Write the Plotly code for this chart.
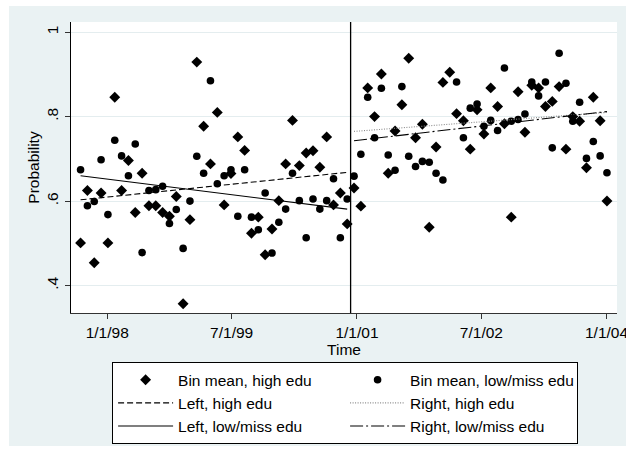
import pandas as pd
import plotly.graph_objects as go

# Regression-discontinuity bins: 30-day bins on each side of the cutoff
cutoff = pd.Timestamp("2000-12-04")
n_left, n_right = 40, 38
left_dates = [cutoff - pd.Timedelta(days=15 + 30 * k) for k in range(n_left - 1, -1, -1)]
right_dates = [cutoff + pd.Timedelta(days=15 + 30 * k) for k in range(n_right)]

# Bin means, high education
left_high = [0.501, 0.625, 0.454, 0.619, 0.501, 0.846, 0.625, 0.696, 0.573, 0.666,
             0.589, 0.589, 0.573, 0.564, 0.611, 0.357, 0.556, 0.929, 0.777, 0.688,
             0.810, 0.591, 0.665, 0.752, 0.720, 0.524, 0.562, 0.473, 0.534, 0.601,
             0.688, 0.791, 0.684, 0.714, 0.719, 0.680, 0.752, 0.591, 0.619, 0.546]
right_high = [0.631, 0.588, 0.868, 0.800, 0.901, 0.666, 0.766, 0.828, 0.938, 0.750,
              0.782, 0.538, 0.728, 0.881, 0.905, 0.807, 0.790, 0.723, 0.816, 0.759,
              0.868, 0.824, 0.783, 0.562, 0.859, 0.763, 0.874, 0.868, 0.824, 0.836,
              0.871, 0.723, 0.800, 0.789, 0.679, 0.846, 0.790, 0.600]

# Bin means, low / missing education
left_low = [0.674, 0.589, 0.599, 0.698, 0.568, 0.744, 0.707, 0.660, 0.735, 0.478,
            0.625, 0.627, 0.635, 0.547, 0.580, 0.488, 0.600, 0.706, 0.666, 0.885,
            0.641, 0.660, 0.674, 0.564, 0.674, 0.562, 0.532, 0.619, 0.477, 0.550,
            0.581, 0.666, 0.601, 0.513, 0.605, 0.581, 0.601, 0.653, 0.513, 0.605]
right_low = [0.659, 0.711, 0.846, 0.750, 0.867, 0.709, 0.673, 0.871, 0.706, 0.682,
             0.694, 0.692, 0.666, 0.650, None, 0.882, 0.750, 0.820, 0.830, 0.777,
             0.791, 0.767, 0.915, 0.789, 0.793, 0.806, 0.882, 0.849, 0.882, 0.726,
             0.950, 0.879, 0.789, 0.834, 0.701, 0.741, 0.707, 0.667]

# Linear fits, evaluated at the first and last bin of each side
fit_left_high = [0.603, 0.668]
fit_left_low = [0.660, 0.581]
fit_right_high = [0.765, 0.810]
fit_right_low = [0.743, 0.812]

x_tick_dates = ["1998-01-01", "1999-07-01", "2001-01-01", "2002-07-01", "2004-01-01"]
x_tick_text = ["1/1/98", "7/1/99", "1/1/01", "7/1/02", "1/1/04"]
y_tick_vals = [0.4, 0.6, 0.8, 1.0]
y_tick_text = [".4", ".6", ".8", "1"]

all_dates = left_dates + right_dates
left_ends = [left_dates[0], left_dates[-1]]
right_ends = [right_dates[0], right_dates[-1]]

FONT = "Liberation Sans, Arial, sans-serif"
BG = "#EAF2F3"
FS = 15.5

fig = go.Figure()
fig.add_trace(go.Scatter(
    x=all_dates, y=left_high + right_high, mode="markers",
    name="Bin mean, high edu",
    marker=dict(symbol="diamond", size=8.4, color="black", line=dict(width=0)),
))
fig.add_trace(go.Scatter(
    x=all_dates, y=left_low + right_low, mode="markers",
    name="Bin mean, low/miss edu",
    marker=dict(symbol="circle", size=7.6, color="black", line=dict(width=0)),
))
fig.add_trace(go.Scatter(
    x=left_ends, y=fit_left_high, mode="lines", name="Left, high edu",
    line=dict(color="black", width=1.1, dash="6px,3px"),
))
fig.add_trace(go.Scatter(
    x=right_ends, y=fit_right_high, mode="lines", name="Right, high edu",
    line=dict(color="#8a8a8a", width=1.1, dash="1px,1.5px"),
))
fig.add_trace(go.Scatter(
    x=left_ends, y=fit_left_low, mode="lines", name="Left, low/miss edu",
    line=dict(color="black", width=1.1),
))
fig.add_trace(go.Scatter(
    x=right_ends, y=fit_right_low, mode="lines", name="Right, low/miss edu",
    line=dict(color="black", width=1.1, dash="13px,3px,2px,3px"),
))

L, R, T, B = 71, 9, 22, 143
W, H = 626, 456
pw, ph = W - L - R, H - T - B

shapes = [
    # outer graph region
    dict(type="rect", xref="paper", yref="paper", layer="below",
         x0=(9 - L) / pw, x1=(W - L) / pw,
         y0=(H - B - 446) / ph, y1=(H - B - 6) / ph,
         fillcolor=BG, line=dict(width=0)),
    # plot region
    dict(type="rect", xref="paper", yref="paper", layer="below",
         x0=0, x1=1, y0=0, y1=1, fillcolor="white", line=dict(width=0)),
    # cutoff
    dict(type="line", xref="x", yref="paper", x0=cutoff, x1=cutoff, y0=0, y1=1,
         line=dict(color="black", width=1.3)),
]

fig.update_layout(
    width=W, height=H,
    margin=dict(l=L, r=R, t=T, b=B, pad=0, autoexpand=False),
    paper_bgcolor="white", plot_bgcolor="white",
    font=dict(family=FONT, size=FS, color="black"),
    shapes=shapes,
    showlegend=True,
    legend=dict(
        orientation="h", x=0.502, xanchor="center", y=-0.169, yanchor="top",
        entrywidth=162, entrywidthmode="pixels", itemwidth=55,
        bgcolor="white", bordercolor="black", borderwidth=1,
        font=dict(family=FONT, size=FS, color="black"),
        tracegroupgap=0,
    ),
    xaxis=dict(
        type="date", range=["1997-07-26", "2004-02-16"],
        tickmode="array", tickvals=x_tick_dates, ticktext=x_tick_text,
        ticklabeloverflow="allow",
        ticks="outside", ticklen=5, tickcolor="#333", tickwidth=1,
        showline=True, linecolor="#333", linewidth=1,
        showgrid=False, zeroline=False,
        title=dict(text="Time", standoff=2, font=dict(size=FS)),
        tickfont=dict(size=FS),
    ),
    yaxis=dict(
        range=[0.335, 1.024],
        tickmode="array", tickvals=y_tick_vals, ticktext=y_tick_text,
        tickangle=-90, ticklabelstandoff=1,
        ticks="outside", ticklen=5, tickcolor="#333", tickwidth=1,
        showline=True, linecolor="black", linewidth=1,
        showgrid=True, gridcolor="#E4EDEF", gridwidth=1,
        zeroline=False,
        title=dict(text="Probability", standoff=0, font=dict(size=FS)),
        tickfont=dict(size=FS),
    ),
)

fig.write_html("out.html")
